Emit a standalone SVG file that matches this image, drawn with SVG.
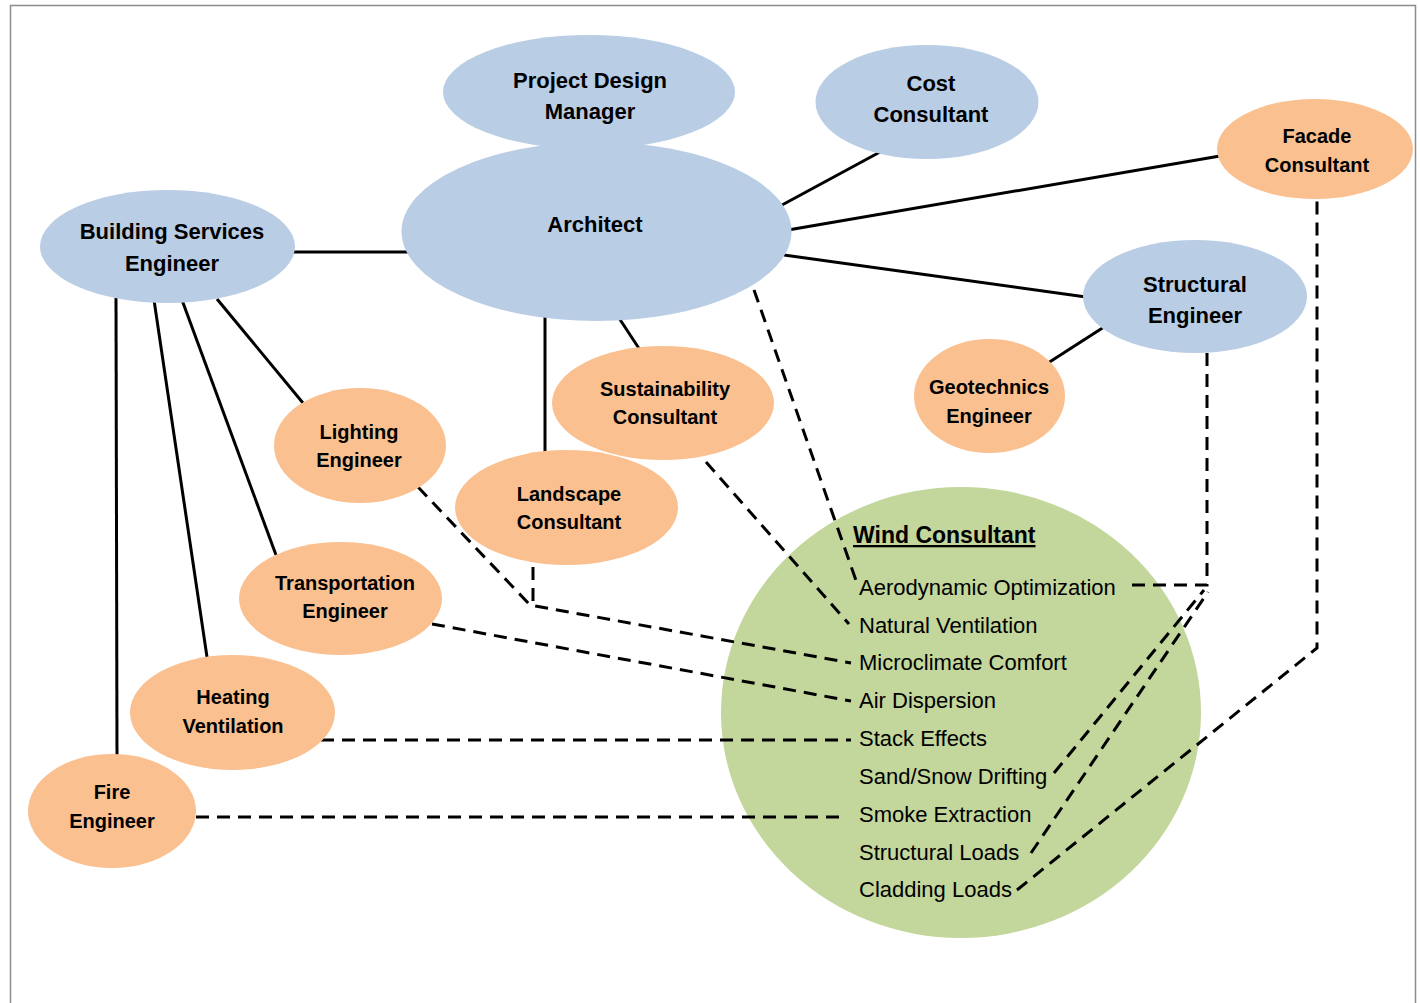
<svg xmlns="http://www.w3.org/2000/svg" width="1420" height="1003" viewBox="0 0 1420 1003">
<style>
.blue{fill:#B9CDE5}
.orange{fill:#FAC090}
.green{fill:#C3D69B}
.lb{font-family:"Liberation Sans",Arial,sans-serif;font-weight:bold;font-size:22px;fill:#000;text-anchor:middle}
.lo{font-family:"Liberation Sans",Arial,sans-serif;font-weight:bold;font-size:20px;fill:#000;text-anchor:middle}
.item{font-family:"Liberation Sans",Arial,sans-serif;font-size:22px;fill:#000}
.title{font-family:"Liberation Sans",Arial,sans-serif;font-weight:bold;font-size:23px;fill:#000;text-decoration:underline}
.solid{stroke:#000;stroke-width:3;fill:none}
.dash{stroke:#000;stroke-width:3;fill:none;stroke-dasharray:13 8}
</style>
<rect x="10.5" y="5.5" width="1405" height="1010" fill="#fff" stroke="#8c8c8c" stroke-width="1.5"/>

<g id="wind-consultant">
<ellipse class="green" cx="961" cy="712.5" rx="240" ry="225.5"/>
<text class="title" x="853" y="543">Wind Consultant</text>
<text class="item" x="859" y="595">Aerodynamic Optimization</text>
<text class="item" x="859" y="633">Natural Ventilation</text>
<text class="item" x="859" y="670">Microclimate Comfort</text>
<text class="item" x="859" y="708">Air Dispersion</text>
<text class="item" x="859" y="746">Stack Effects</text>
<text class="item" x="859" y="784">Sand/Snow Drifting</text>
<text class="item" x="859" y="822">Smoke Extraction</text>
<text class="item" x="859" y="860">Structural Loads</text>
<text class="item" x="859" y="897">Cladding Loads</text>
</g>

<g id="connectors">
<line class="solid" x1="280" y1="252" x2="420" y2="252"/>
<line class="solid" x1="217" y1="299" x2="303" y2="403"/>
<line class="solid" x1="182" y1="300" x2="276" y2="555"/>
<line class="solid" x1="154" y1="300" x2="207" y2="657"/>
<line class="solid" x1="116" y1="298" x2="117" y2="756"/>
<line class="solid" x1="545" y1="315" x2="545" y2="455"/>
<line class="solid" x1="619" y1="318" x2="640" y2="350"/>
<line class="solid" x1="782" y1="205" x2="880" y2="152"/>
<line class="solid" x1="788" y1="230" x2="1220" y2="156"/>
<line class="solid" x1="784" y1="255" x2="1086" y2="297"/>
<line class="solid" x1="1104" y1="327" x2="1048" y2="363"/>
<path class="dash" d="M754,290 L858,586"/>
<path class="dash" d="M706,462 L849,624"/>
<path class="dash" d="M418,487 L530,605 L851,663"/>
<path class="dash" d="M533,567 L533,605"/>
<path class="dash" d="M432,624 L851,701"/>
<path class="dash" d="M321,740 L851,740"/>
<path class="dash" d="M196,817 L846,817"/>
<path class="dash" d="M1132,585 L1207,585 L1207,353"/>
<path class="dash" d="M1054,773 L1204,590"/>
<path class="dash" d="M1031,853 L1208,592"/>
<path class="dash" d="M1017,890 L1317,648 L1317,196"/>
</g>

<g id="project-design-manager">
<ellipse class="blue" cx="589" cy="92" rx="146" ry="57"/>
<text class="lb" x="590" y="88">Project Design</text>
<text class="lb" x="590" y="119">Manager</text>
</g>
<g id="architect">
<ellipse class="blue" cx="596.5" cy="231.5" rx="195" ry="89.5"/>
<text class="lb" x="595" y="232">Architect</text>
</g>
<g id="cost-consultant">
<ellipse class="blue" cx="927" cy="102" rx="111.5" ry="57"/>
<text class="lb" x="931" y="91">Cost</text>
<text class="lb" x="931" y="122">Consultant</text>
</g>
<g id="facade-consultant">
<ellipse class="orange" cx="1315" cy="149" rx="98" ry="50"/>
<text class="lo" x="1317" y="143">Facade</text>
<text class="lo" x="1317" y="172">Consultant</text>
</g>
<g id="building-services-engineer">
<ellipse class="blue" cx="167.5" cy="246.5" rx="127.5" ry="56.5"/>
<text class="lb" x="172" y="239">Building Services</text>
<text class="lb" x="172" y="271">Engineer</text>
</g>
<g id="structural-engineer">
<ellipse class="blue" cx="1195" cy="296.5" rx="112" ry="56.5"/>
<text class="lb" x="1195" y="292">Structural</text>
<text class="lb" x="1195" y="323">Engineer</text>
</g>
<g id="geotechnics-engineer">
<ellipse class="orange" cx="989.5" cy="396" rx="75.5" ry="57"/>
<text class="lo" x="989" y="394">Geotechnics</text>
<text class="lo" x="989" y="423">Engineer</text>
</g>
<g id="sustainability-consultant">
<ellipse class="orange" cx="663" cy="403" rx="111" ry="57"/>
<text class="lo" x="665" y="396">Sustainability</text>
<text class="lo" x="665" y="424">Consultant</text>
</g>
<g id="landscape-consultant">
<ellipse class="orange" cx="566.5" cy="507.5" rx="111.5" ry="57.5"/>
<text class="lo" x="569" y="501">Landscape</text>
<text class="lo" x="569" y="529">Consultant</text>
</g>
<g id="lighting-engineer">
<ellipse class="orange" cx="360" cy="445.5" rx="86" ry="57.5"/>
<text class="lo" x="359" y="439">Lighting</text>
<text class="lo" x="359" y="467">Engineer</text>
</g>
<g id="transportation-engineer">
<ellipse class="orange" cx="340.5" cy="598.5" rx="101.5" ry="56.5"/>
<text class="lo" x="345" y="590">Transportation</text>
<text class="lo" x="345" y="618">Engineer</text>
</g>
<g id="heating-ventilation">
<ellipse class="orange" cx="232.5" cy="712.5" rx="102.5" ry="57.5"/>
<text class="lo" x="233" y="704">Heating</text>
<text class="lo" x="233" y="733">Ventilation</text>
</g>
<g id="fire-engineer">
<ellipse class="orange" cx="112" cy="811" rx="84" ry="57"/>
<text class="lo" x="112" y="799">Fire</text>
<text class="lo" x="112" y="828">Engineer</text>
</g>
</svg>
